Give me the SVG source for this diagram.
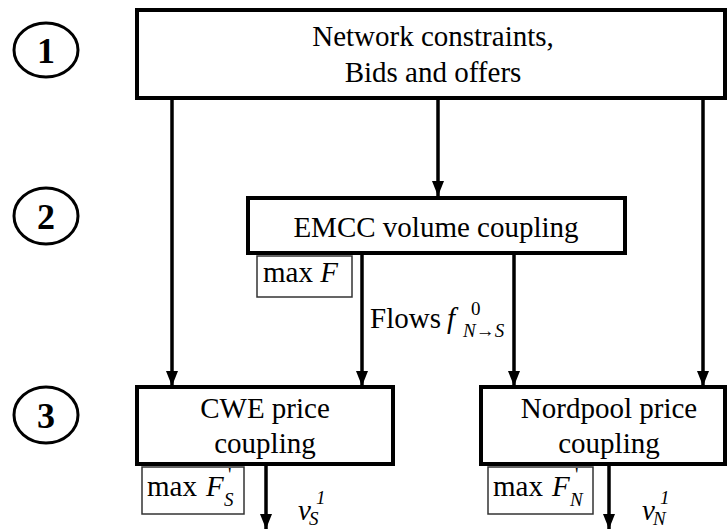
<svg xmlns="http://www.w3.org/2000/svg" width="728" height="529" viewBox="0 0 728 529" font-family="'Liberation Serif', 'Times New Roman', serif">
<defs>
<style>
text{font-family:"Liberation Serif","Times New Roman",serif;fill:#000}
.t{font-size:29px}
.m{text-anchor:middle}
.i{font-style:italic}
.s{font-size:19px}
.num{font-size:36px;font-weight:bold;text-anchor:middle}
.box{fill:#fff;stroke:#000;stroke-width:4}
.sbox{fill:#fff;stroke:#333;stroke-width:1.5}
.circ{fill:none;stroke:#000;stroke-width:3}
.c{stroke:#000;stroke-width:3.5;fill:none;marker-end:url(#ah)}
</style>
<marker id="ah" markerUnits="userSpaceOnUse" markerWidth="16" markerHeight="14" refX="15" refY="6" orient="auto" viewBox="0 0 16 12">
<path d="M0,0 L15,6 L0,12 z" fill="#000"/>
</marker>
</defs>
<rect width="728" height="529" fill="#fff"/>

<g id="step1">
<ellipse class="circ" cx="46" cy="50" rx="32" ry="27"/>
<text class="num" x="46" y="63">1</text>
</g>
<g id="step2">
<ellipse class="circ" cx="46" cy="216" rx="32" ry="28"/>
<text class="num" x="46" y="229">2</text>
</g>
<g id="step3">
<ellipse class="circ" cx="46" cy="415" rx="32" ry="28"/>
<text class="num" x="46" y="428">3</text>
</g>

<g id="connectors">
<line class="c" x1="172" y1="98" x2="172" y2="386"/>
<line class="c" x1="438" y1="98" x2="438" y2="196"/>
<line class="c" x1="703" y1="98" x2="703" y2="386"/>
<line class="c" x1="362" y1="253" x2="362" y2="386"/>
<line class="c" x1="514" y1="253" x2="514" y2="386"/>
<line class="c" x1="266" y1="464" x2="266" y2="529"/>
<line class="c" x1="609" y1="465" x2="609" y2="529"/>
</g>

<g id="inputs">
<rect class="box" x="137" y="10" width="588" height="88"/>
<text class="t m" x="433" y="46">Network constraints,</text>
<text class="t m" x="433" y="82">Bids and offers</text>
</g>

<g id="emcc">
<rect class="box" x="248" y="198" width="377" height="55"/>
<text class="t m" x="436" y="237">EMCC volume coupling</text>
</g>

<g id="maxF">
<rect class="sbox" x="257" y="256" width="95" height="41"/>
<text class="t" x="263" y="282">max <tspan class="i">F</tspan></text>
</g>

<g id="flows">
<text class="t" x="370" y="328">Flows<tspan class="i" x="447">f</tspan><tspan class="s" x="471" y="315">0</tspan><tspan class="s" x="463" y="337"><tspan class="i">N</tspan>→<tspan class="i">S</tspan></tspan></text>
</g>

<g id="cwe">
<rect class="box" x="137" y="387" width="256" height="77"/>
<text class="t m" x="265" y="418">CWE price</text>
<text class="t m" x="265" y="453">coupling</text>
</g>

<g id="maxFS">
<rect class="sbox" x="142" y="467" width="102" height="47"/>
<text class="t" x="147" y="496">max<tspan class="i" x="206">F</tspan><tspan class="s i" x="224" y="506">S</tspan><tspan class="s" x="228" y="481">'</tspan></text>
</g>

<g id="vS">
<text class="t i" x="298" y="520">v<tspan class="s" x="316" y="504">1</tspan><tspan class="s" x="309" y="525">S</tspan></text>
</g>

<g id="nordpool">
<rect class="box" x="481" y="387" width="244" height="77"/>
<text class="t m" x="609" y="418">Nordpool price</text>
<text class="t m" x="609" y="453">coupling</text>
</g>

<g id="maxFN">
<rect class="sbox" x="488" y="467" width="105" height="47"/>
<text class="t" x="493" y="496">max<tspan class="i" x="552">F</tspan><tspan class="s i" x="570" y="506">N</tspan><tspan class="s" x="575" y="481">'</tspan></text>
</g>

<g id="vN">
<text class="t i" x="642" y="520">v<tspan class="s" x="660" y="504">1</tspan><tspan class="s" x="653" y="525">N</tspan></text>
</g>
</svg>
